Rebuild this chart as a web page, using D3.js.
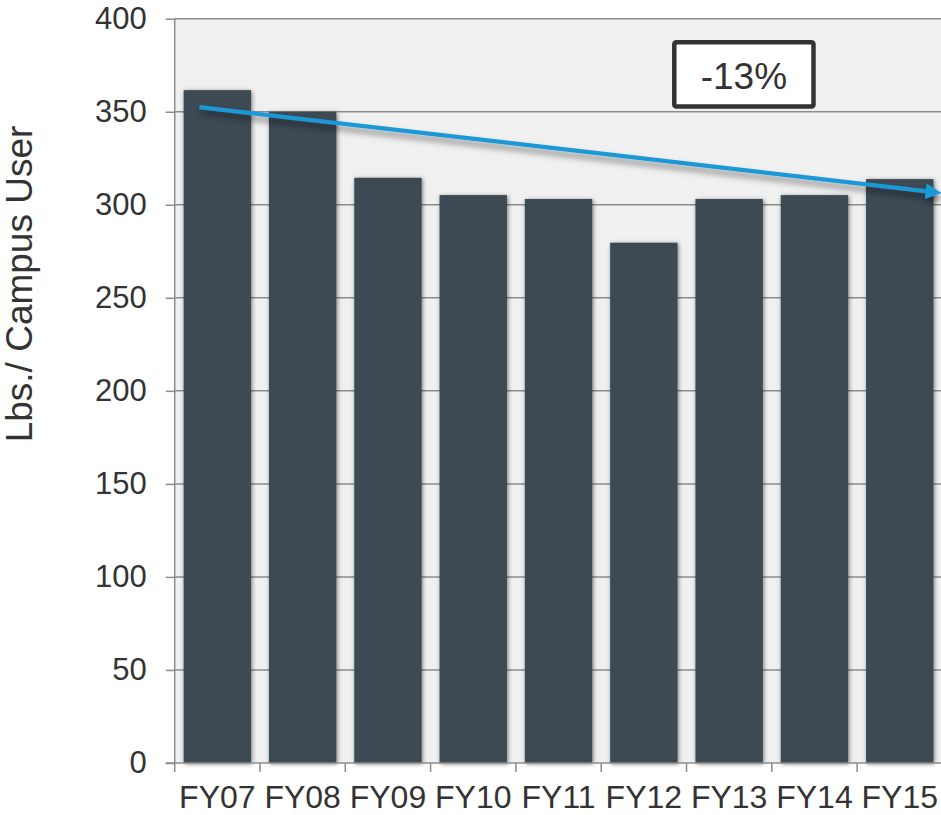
<!DOCTYPE html>
<html>
<head>
<meta charset="utf-8">
<script src="https://cdn.jsdelivr.net/npm/d3@7"></script>
<style>
  html, body { margin: 0; padding: 0; background: #fff; }
  svg { display: block; font-family: "Liberation Sans", Arial, Helvetica, sans-serif; }
</style>
</head>
<body>
<svg id="chart" width="941" height="815"></svg>
<script>
// ---- data ----
const categories = ["FY07", "FY08", "FY09", "FY10", "FY11", "FY12", "FY13", "FY14", "FY15"];
const values = [361.6, 350.0, 314.5, 305.2, 303.1, 279.6, 303.1, 305.2, 313.8];
const yTicks = [0, 50, 100, 150, 200, 250, 300, 350, 400];
const yTitle = "Lbs./ Campus User";
const changeLabel = "-13%";
// trend arrow: [category position (in bands), value]
const trendStart = [0.29, 352.5];
const trendEnd = [8.99, 306.3];

// ---- layout ----
const svg = d3.select("#chart");
const pLeft = 174.7, pRight = 942.4, pTop = 18.7, pBottom = 763;

const x = d3.scaleBand().domain(categories).range([pLeft, pRight])
  .paddingInner(0.21).paddingOuter(0.105);
const xPos = d3.scaleLinear().domain([0, categories.length]).range([pLeft, pRight]);
const y = d3.scaleLinear().domain([0, 400]).range([pBottom, pTop]);

const defs = svg.append("defs");
const bs = defs.append("filter").attr("id", "barShadow")
  .attr("x", "-20%").attr("y", "-5%").attr("width", "140%").attr("height", "110%");
bs.append("feDropShadow").attr("dx", 1).attr("dy", 1).attr("stdDeviation", 2.2)
  .attr("flood-color", "#000").attr("flood-opacity", 0.5);
const ls = defs.append("filter").attr("id", "lineShadow")
  .attr("x", "-5%").attr("y", "-50%").attr("width", "110%").attr("height", "200%");
ls.append("feDropShadow").attr("dx", 2).attr("dy", 5).attr("stdDeviation", 3)
  .attr("flood-color", "#000").attr("flood-opacity", 0.45);
defs.append("marker").attr("id", "arrowHead")
  .attr("markerUnits", "userSpaceOnUse")
  .attr("viewBox", "0 0 16 16").attr("refX", 4).attr("refY", 8)
  .attr("markerWidth", 16).attr("markerHeight", 16).attr("orient", "auto")
  .append("path").attr("d", "M0,0 L16,8 L0,16 Z").attr("fill", "#1b98d6");

// plot background
svg.append("rect").attr("x", pLeft).attr("y", pTop)
  .attr("width", pRight - pLeft).attr("height", pBottom - pTop).attr("fill", "#f0f0f0");

// gridlines + y ticks
const yAxis = d3.axisLeft(y).tickValues(yTicks).tickSize(9).tickPadding(19)
  .tickFormat(d3.format("d"));
const gy = svg.append("g").attr("transform", `translate(${pLeft},0)`).call(yAxis);
gy.select(".domain").remove();
gy.selectAll(".tick line").attr("stroke", "#8c8c8c").attr("stroke-width", 1.5);
gy.selectAll(".tick text").attr("font-size", 31).attr("fill", "#333")
  .attr("font-family", "Liberation Sans, Arial, sans-serif");
svg.append("g").selectAll("line").data(yTicks.filter(d => d > 0)).join("line")
  .attr("x1", pLeft).attr("x2", pRight).attr("y1", d => y(d)).attr("y2", d => y(d))
  .attr("stroke", "#8c8c8c").attr("stroke-width", 1.5);

// bars
svg.append("g").selectAll("rect").data(values).join("rect")
  .attr("x", (d, i) => x(categories[i]))
  .attr("y", d => y(d))
  .attr("width", x.bandwidth())
  .attr("height", d => y(0) - y(d))
  .attr("fill", "#3c4a53")
  .attr("filter", "url(#barShadow)");

// y axis line
svg.append("line").attr("x1", pLeft).attr("x2", pLeft).attr("y1", pTop).attr("y2", pBottom)
  .attr("stroke", "#8c8c8c").attr("stroke-width", 1.5);

// x axis
const xAxisBoundaries = categories.map((c, i) => xPos(i));
const gx = svg.append("g");
gx.append("line").attr("x1", pLeft - 9).attr("x2", pRight).attr("y1", pBottom).attr("y2", pBottom)
  .attr("stroke", "#8c8c8c").attr("stroke-width", 1.5);
gx.selectAll("line.tk").data(xAxisBoundaries).join("line").attr("class", "tk")
  .attr("x1", d => d).attr("x2", d => d).attr("y1", pBottom).attr("y2", pBottom + 9)
  .attr("stroke", "#8c8c8c").attr("stroke-width", 1.5);
gx.selectAll("text").data(categories).join("text")
  .attr("x", d => x(d) + x.bandwidth() / 2).attr("y", 808)
  .attr("text-anchor", "middle").attr("font-size", 32).attr("fill", "#333")
  .text(d => d);

// y title
svg.append("text").attr("transform", "translate(32,284) rotate(-90)")
  .attr("text-anchor", "middle").attr("font-size", 37).attr("fill", "#333")
  .text(yTitle);

// trend arrow
svg.append("line")
  .attr("x1", xPos(trendStart[0])).attr("y1", y(trendStart[1]))
  .attr("x2", xPos(trendEnd[0]) - 12).attr("y2", y(trendEnd[1]) - 1.4)
  .attr("stroke", "#1b98d6").attr("stroke-width", 4.2)
  .attr("marker-end", "url(#arrowHead)")
  .attr("filter", "url(#lineShadow)");

// change label box
const bx = 674.3, byy = 42.3, bw = 139.2, bh = 64.2;
svg.append("rect").attr("x", bx).attr("y", byy).attr("width", bw).attr("height", bh)
  .attr("rx", 2).attr("fill", "#fff").attr("stroke", "#333").attr("stroke-width", 4.5);
svg.append("text").attr("x", bx + bw / 2).attr("y", 89.3)
  .attr("text-anchor", "middle").attr("font-size", 37).attr("fill", "#333")
  .text(changeLabel);
</script>
</body>
</html>
